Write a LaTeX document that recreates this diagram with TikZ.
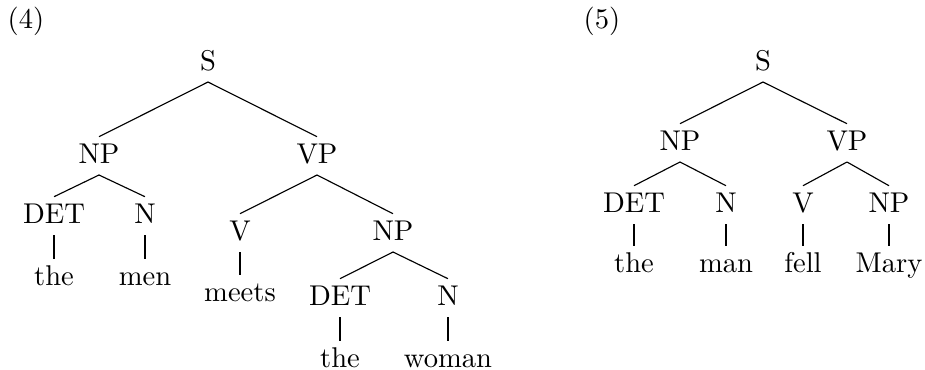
\documentclass[tikz,border=0pt]{standalone}
\usepackage{tikz}

\begin{document}
\begin{tikzpicture}[
  x=0.35pt, y=-0.35pt,
  cat/.style={inner sep=0pt, anchor=base, text height=9pt, text depth=4pt},
  lbl/.style={inner sep=0pt, anchor=base},
  br/.style={line width=0.4pt}
]
  \useasboundingbox (0,0) rectangle (925,370);

  % example (4)
  \node[lbl] (ex4)  at (26,28)   {(4)};
  \node[cat] (s4)   at (208,70)  {S};
  \node[cat] (np4)  at (99,163)  {NP};
  \node[cat] (vp4)  at (317,163) {VP};
  \node[cat] (det4) at (54,223)  {DET};
  \node[cat] (n4)   at (145,223) {N};
  \node[cat] (the4) at (54,285)  {the};
  \node[cat] (men)  at (145,285) {men};
  \node[cat] (v4)   at (240,240) {V};
  \node[cat] (npo4) at (393,240) {NP};
  \node[cat] (meets) at (240,301) {meets};
  \node[cat] (deto4) at (340,305) {DET};
  \node[cat] (no4)  at (448,305) {N};
  \node[cat] (theo4) at (340,367) {the};
  \node[cat] (woman) at (448,367) {woman};

  \draw[br] (s4.south) -- (np4.north);
  \draw[br] (s4.south) -- (vp4.north);
  \draw[br] (np4.south) -- (det4.north);
  \draw[br] (np4.south) -- (n4.north);
  \draw[br] (det4.south) -- (the4.north);
  \draw[br] (n4.south) -- (men.north);
  \draw[br] (vp4.south) -- (v4.north);
  \draw[br] (vp4.south) -- (npo4.north);
  \draw[br] (v4.south) -- (meets.north);
  \draw[br] (npo4.south) -- (deto4.north);
  \draw[br] (npo4.south) -- (no4.north);
  \draw[br] (deto4.south) -- (theo4.north);
  \draw[br] (no4.south) -- (woman.north);

  % example (5)
  \node[lbl] (ex5)  at (602,28)  {(5)};
  \node[cat] (s5)   at (763,70)  {S};
  \node[cat] (np5)  at (680,150) {NP};
  \node[cat] (vp5)  at (847,150) {VP};
  \node[cat] (det5) at (634,212) {DET};
  \node[cat] (n5)   at (726,212) {N};
  \node[cat] (v5)   at (803,212) {V};
  \node[cat] (npo5) at (889,212) {NP};
  \node[cat] (the5) at (634,272) {the};
  \node[cat] (man)  at (726,272) {man};
  \node[cat] (fell) at (803,272) {fell};
  \node[cat] (mary) at (889,272) {Mary};

  \draw[br] (s5.south) -- (np5.north);
  \draw[br] (s5.south) -- (vp5.north);
  \draw[br] (np5.south) -- (det5.north);
  \draw[br] (np5.south) -- (n5.north);
  \draw[br] (vp5.south) -- (v5.north);
  \draw[br] (vp5.south) -- (npo5.north);
  \draw[br] (det5.south) -- (the5.north);
  \draw[br] (n5.south) -- (man.north);
  \draw[br] (v5.south) -- (fell.north);
  \draw[br] (npo5.south) -- (mary.north);
\end{tikzpicture}
\end{document}
